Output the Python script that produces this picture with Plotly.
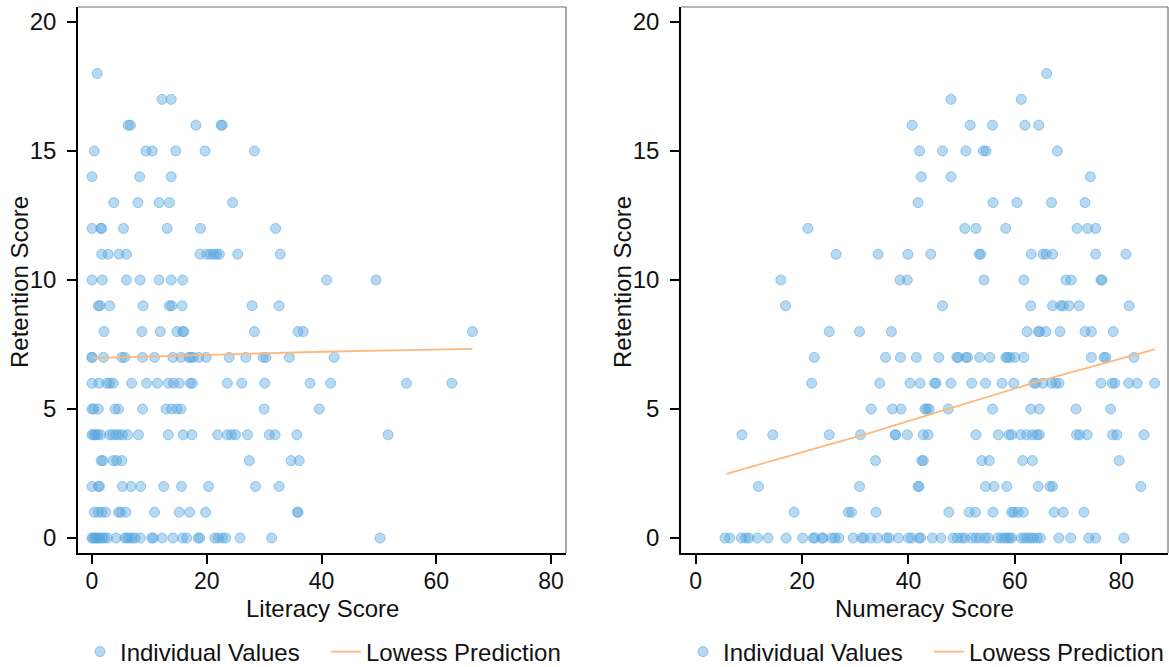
import plotly.graph_objects as go

W, H = 1169, 667

# Retention score levels (rows of points, top to bottom)
retention_levels = list(range(18, -1, -1))

# Literacy scores of the individuals at each retention level
literacy_rows = [
    [0.9],
    [12.2, 13.8],
    [6.3, 6.7, 18.1, 22.5, 22.7],
    [0.4, 9.4, 10.5, 14.6, 19.7, 28.3],
    [0.0, 8.3, 13.8],
    [3.8, 8.0, 11.7, 13.5, 24.5],
    [0.0, 1.5, 1.7, 5.5, 13.1, 18.9, 32.0],
    [1.7, 2.8, 4.7, 6.0, 18.8, 20.0, 20.6, 21.2, 21.7, 22.2, 25.4, 32.8],
    [0.0, 1.8, 6.0, 8.4, 11.7, 13.8, 15.8, 40.9, 49.5],
    [1.1, 1.4, 3.1, 8.9, 13.5, 13.9, 15.7, 27.9, 32.6],
    [2.1, 8.7, 11.9, 14.8, 15.8, 16.0, 28.3, 35.9, 36.8, 66.3],
    [0.0, 0.0, 2.0, 5.2, 5.7, 8.8, 10.9, 14.1, 15.5, 16.9, 17.2, 17.6, 18.6,
     19.9, 23.9, 26.8, 29.8, 30.3, 34.4, 42.2],
    [0.0, 1.2, 2.6, 3.1, 3.7, 6.9, 9.5, 11.4, 13.3, 14.2, 15.2, 17.1, 17.5,
     23.6, 26.1, 30.1, 38.0, 41.6, 54.8, 62.7],
    [0.0, 0.3, 1.1, 4.0, 4.6, 8.8, 12.9, 13.9, 14.8, 15.5, 30.0, 39.6],
    [0.0, 0.3, 0.6, 1.0, 1.5, 3.1, 3.6, 4.2, 4.7, 5.3, 6.2, 8.1, 13.3, 15.9,
     17.4, 21.9, 23.6, 24.3, 25.0, 27.1, 30.9, 31.9, 35.7, 51.6],
    [1.6, 1.9, 3.7, 4.3, 5.2, 27.4, 34.7, 36.1],
    [0.0, 1.1, 1.3, 5.3, 6.8, 8.5, 12.5, 15.6, 20.3, 28.5, 32.6],
    [0.4, 1.1, 1.7, 2.4, 4.6, 5.0, 5.9, 10.9, 15.2, 17.0, 19.8, 35.8, 35.9],
    [0.0, 0.2, 0.5, 0.8, 1.1, 1.4, 1.8, 2.2, 2.7, 4.2, 5.7, 6.1, 6.5, 7.0,
     7.5, 8.4, 10.4, 10.7, 12.2, 14.1, 15.8, 16.5, 18.5, 18.8, 21.4, 22.0,
     22.7, 23.3, 25.8, 31.3, 50.2],
]

# Numeracy scores of the individuals at each retention level
numeracy_rows = [
    [66.0],
    [48.0, 61.2],
    [40.7, 51.6, 55.8, 61.9, 64.5],
    [42.1, 46.4, 50.8, 54.1, 54.6, 68.0],
    [42.4, 48.0, 74.2],
    [41.8, 55.9, 60.4, 66.9, 73.2],
    [21.1, 50.6, 52.7, 58.3, 71.7, 73.7, 75.2],
    [26.4, 34.3, 39.9, 44.2, 53.3, 53.6, 63.1, 65.3, 65.9, 67.1, 75.2, 80.9],
    [16.0, 38.4, 39.8, 54.2, 61.7, 69.6, 70.6, 76.2, 76.4],
    [16.9, 46.4, 63.0, 67.1, 68.6, 69.1, 70.2, 72.1, 81.5],
    [25.1, 30.8, 36.8, 62.3, 64.4, 64.7, 65.8, 68.5, 73.2, 74.4, 78.5],
    [22.3, 35.7, 38.5, 41.5, 45.7, 49.1, 49.4, 50.8, 51.1, 53.4, 55.3, 58.3,
     58.6, 59.1, 60.0, 61.7, 74.4, 76.8, 77.1, 82.4],
    [21.8, 34.6, 40.3, 42.2, 44.9, 45.2, 48.0, 51.9, 54.5, 57.6, 59.8, 63.6,
     64.0, 65.3, 66.9, 67.7, 68.3, 76.2, 78.3, 78.8, 81.4, 83.0, 86.3],
    [33.0, 37.0, 38.6, 43.1, 43.5, 43.9, 47.5, 55.8, 63.0, 64.6, 71.5, 78.0],
    [8.7, 14.5, 25.1, 31.0, 37.5, 37.6, 39.8, 42.8, 43.7, 52.7, 56.9, 58.9,
     59.4, 61.1, 62.2, 63.3, 64.2, 64.6, 71.6, 72.2, 73.6, 78.4, 79.2, 84.3],
    [33.8, 42.5, 42.8, 53.8, 55.2, 61.5, 63.3, 79.6],
    [11.8, 30.8, 41.8, 42.0, 54.5, 56.1, 58.5, 64.4, 66.6, 67.1, 83.7],
    [18.5, 28.7, 29.3, 33.9, 47.6, 51.4, 52.6, 55.9, 59.4, 59.8, 60.6, 61.6,
     67.4, 69.1, 73.0],
    [5.5, 6.4, 8.6, 9.4, 10.0, 11.6, 13.6, 17.0, 20.1, 22.1, 22.4, 23.7, 24.0,
     25.6, 26.2, 26.9, 29.6, 31.2, 31.6, 32.9, 34.2, 35.9, 36.4, 38.1, 40.0,
     40.6, 42.0, 42.3, 44.5, 46.1, 48.4, 49.2, 50.0, 50.6, 51.9, 52.7, 53.4,
     54.4, 55.0, 56.8, 57.5, 58.1, 58.6, 59.1, 59.4, 61.2, 61.8, 62.4, 63.0,
     63.5, 64.2, 64.8, 68.3, 70.5, 73.9, 75.2, 80.5],
]

# Lowess predictions
lit_lowess_x = [0.0, 10.0, 20.0, 30.0, 40.0, 50.0, 60.0, 66.3]
lit_lowess_y = [6.97, 7.04, 7.10, 7.17, 7.22, 7.26, 7.30, 7.33]
num_lowess_x = [5.8, 20.0, 32.8, 45.0, 64.1, 75.0, 86.3]
num_lowess_y = [2.49, 3.33, 4.08, 4.85, 6.05, 6.67, 7.31]

x_ticks = [0, 20, 40, 60, 80]
y_ticks = [0, 5, 10, 15, 20]
x_titles = ["Literacy Score", "Numeracy Score"]
y_title = "Retention Score"


def flatten(rows):
    xs, ys = [], []
    for level, row in zip(retention_levels, rows):
        xs.extend(row)
        ys.extend([level] * len(row))
    return xs, ys


lit_x, lit_y = flatten(literacy_rows)
num_x, num_y = flatten(numeracy_rows)

FONT = "Liberation Sans, Arial, sans-serif"
FS = 24
TXT = "#111"
PT_FILL = "rgba(84,164,222,0.42)"
PT_EDGE = "rgba(84,164,222,0.55)"
LINE_COL = "#ffb77a"

# Plot-region edges in pixels (left panel, right panel)
PANEL_LEFT = [78, 681]
PANEL_RIGHT = [566, 1168]
TOP, BOTTOM = 7, 553

fig = go.Figure()

panels = [
    (lit_x, lit_y, lit_lowess_x, lit_lowess_y, "x", "y", "legend"),
    (num_x, num_y, num_lowess_x, num_lowess_y, "x2", "y2", "legend2"),
]
for px_, py_, lx, ly, xa, ya, lg in panels:
    fig.add_trace(go.Scatter(
        x=px_, y=py_, mode="markers", name="Individual Values",
        xaxis=xa, yaxis=ya, legend=lg,
        marker=dict(size=10, color=PT_FILL, line=dict(width=1, color=PT_EDGE)),
    ))
    fig.add_trace(go.Scatter(
        x=lx, y=ly, mode="lines", name="Lowess Prediction",
        xaxis=xa, yaxis=ya, legend=lg,
        line=dict(color=LINE_COL, width=1.8),
    ))

axis_common = dict(
    showline=True, linecolor="black", linewidth=1.5,
    ticks="outside", ticklen=9, tickwidth=1.5, tickcolor="black",
    showgrid=False, zeroline=False, automargin=False,
)
x_common = dict(axis_common, ticklabelstandoff=-2, tickvals=x_ticks,
                tickfont=dict(family=FONT, size=23, color=TXT))
y_common = dict(axis_common, ticklabelstandoff=6, tickvals=y_ticks,
                tickfont=dict(family=FONT, size=FS, color=TXT),
                range=[-0.58, 20.58], domain=[1 - BOTTOM / H, 1 - TOP / H])

legend_common = dict(orientation="h", xanchor="left",
                     y=(H - 652) / H, yanchor="middle",
                     entrywidth=201, entrywidthmode="pixels",
                     font=dict(family=FONT, size=FS, color=TXT),
                     bgcolor="rgba(0,0,0,0)")

fig.update_layout(
    width=W, height=H,
    margin=dict(l=0, r=0, t=0, b=0, autoexpand=False),
    paper_bgcolor="white", plot_bgcolor="white",
    font=dict(family=FONT, size=FS, color=TXT),
    xaxis=dict(x_common, domain=[PANEL_LEFT[0] / W, PANEL_RIGHT[0] / W],
               range=[-2.44, 82.6], anchor="y"),
    yaxis=dict(y_common, anchor="x"),
    xaxis2=dict(x_common, domain=[PANEL_LEFT[1] / W, PANEL_RIGHT[1] / W],
                range=[-2.76, 88.8], anchor="y2"),
    yaxis2=dict(y_common, anchor="x2"),
    legend=dict(legend_common, x=(PANEL_LEFT[0] + 2) / W),
    legend2=dict(legend_common, x=(PANEL_LEFT[1] + 2) / W),
    showlegend=True,
)

# Axis titles
for i in range(2):
    cx = (PANEL_LEFT[i] + PANEL_RIGHT[i]) / 2
    fig.add_annotation(text=x_titles[i], xref="paper", yref="paper",
                       x=cx / W, y=(H - 608) / H, xanchor="center",
                       yanchor="middle", showarrow=False,
                       font=dict(family=FONT, size=FS, color=TXT))
    fig.add_annotation(text=y_title, xref="paper", yref="paper",
                       x=(PANEL_LEFT[i] - 58) / W, y=(H - 282) / H,
                       xanchor="center", yanchor="middle", textangle=-90,
                       showarrow=False,
                       font=dict(family=FONT, size=FS, color=TXT))

# Thin grey frame on the top and right of each plot region
for xa, ya in [("x", "y"), ("x2", "y2")]:
    for x0, y0, x1, y1 in [(0, 1, 1, 1), (1, 0, 1, 1)]:
        fig.add_shape(type="line", xref=f"{xa} domain", yref=f"{ya} domain",
                      x0=x0, y0=y0, x1=x1, y1=y1,
                      line=dict(color="#707070", width=1.2))

fig.write_html("out.html")
